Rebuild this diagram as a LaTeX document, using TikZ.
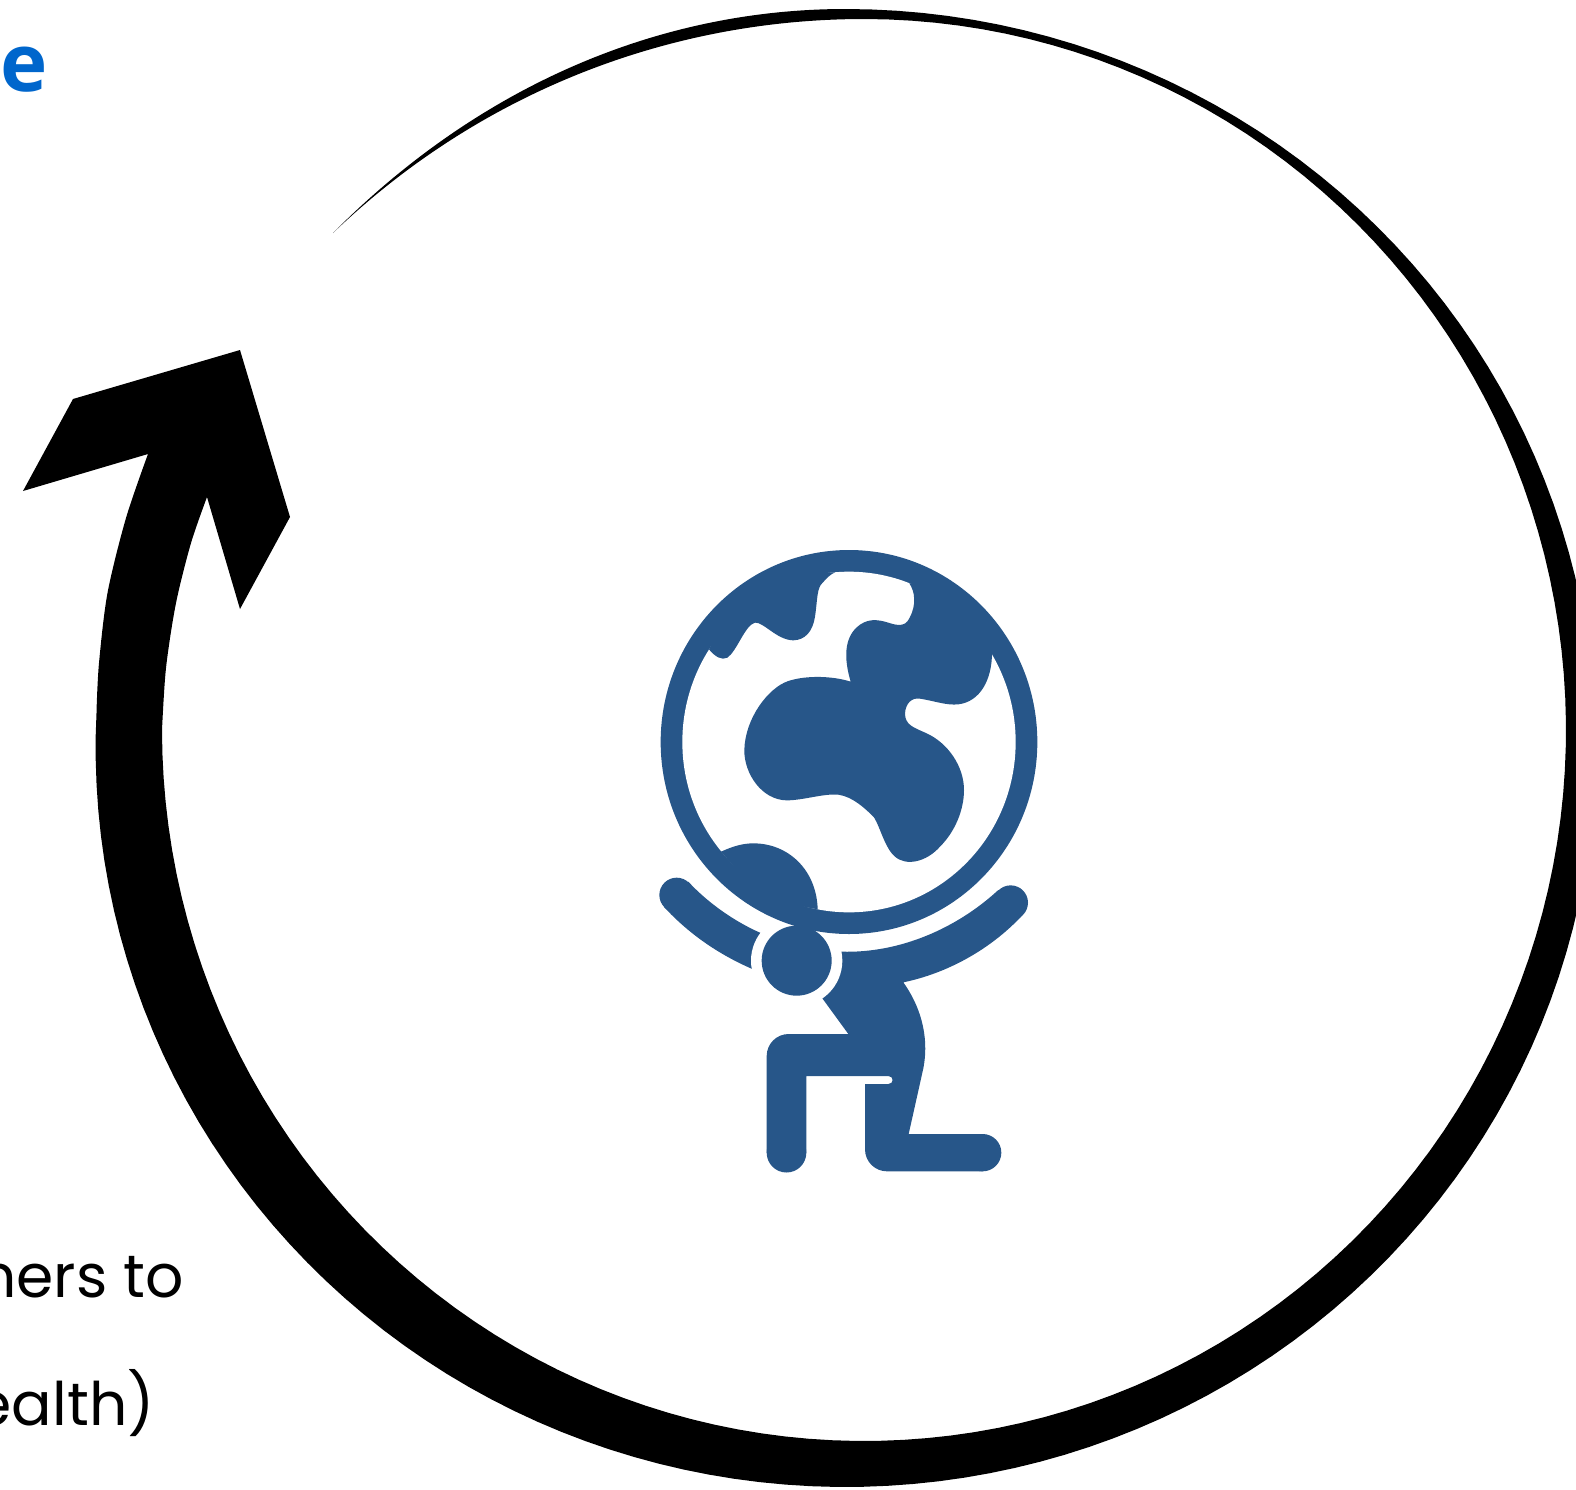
\documentclass[tikz,border=0pt]{standalone}
\usepackage{fontspec}
\usepackage{tikz}
\setmainfont{Poppins}
\newfontfamily\headfont{Open Sans}
\definecolor{atlasblue}{HTML}{275689}
\definecolor{headblue}{HTML}{0066CC}

\begin{document}
\begin{tikzpicture}[x=1pt, y=-1pt,
    atlas/.style={fill=atlasblue},
    headtext/.style={text=headblue, inner sep=0pt, font=\headfont\bfseries\fontsize{80}{96}\selectfont},
    bodytext/.style={text=black, inner sep=0pt, font=\fontsize{60}{72}\selectfont}]

  \path[use as bounding box, clip] (0,0) rectangle (1576,1489);

  % Cut-off texts
  \node[headtext, anchor=base west] (head_e) at (0,91.5) {e};
  \node[headtext, anchor=east] (head_paren) at (4,243) {)};
  \node[bodytext, anchor=base east] (line_to) at (184,1297) {ners to};
  \node[bodytext, anchor=base east] (line_health) at (155,1425) {ealth)};

  % Circular arrow
  \fill[black] (333,233) .. controls (480,85) and (660,9) .. (845.6,9)
    -- plot[domain=-90:183, samples=140] ({845.6+750*cos(\x)}, {748+739*sin(\x)})
    -- plot[smooth] coordinates {
      (96.6,709) (99,663) (107.5,593) (126,518) (148,454)}
    -- (23,491) -- (73,399) -- (240,350) -- (290,517) -- (240,609) -- (207,497)
    -- plot[smooth] coordinates {
      (207,497) (191,543) (176,603) (166,668) (162,730)}
    -- plot[domain=180:-90, samples=140] ({864+702*cos(\x)}, {730+711*sin(\x)})
    .. controls (670,19) and (480,92) .. (333,233)
    -- cycle;

  % Figure below the globe
  \begin{scope}[shift={(640,860)}, scale=1/3]
    \fill[atlas] (145,65) .. controls (205,130) and (285,185) .. (360,218)
      -- (420,250) -- (420,350) -- (337,327)
      .. controls (240,285) and (150,225) .. (73,142) -- cycle;
    \fill[atlas] (110,105) circle[radius=52];
    \fill[atlas] (470,302) -- (605,275) .. controls (780,280) and (950,205) .. (1075,90)
      -- (1147,166) .. controls (1050,270) and (920,340) .. (790,367)
      .. controls (835,430) and (870,520) .. (850,625)
      -- (806,822) -- (1028,822) -- (1028,934)
      [rounded corners=22pt] -- (675,934) [sharp corners] -- (675,672) -- (745,672)
      .. controls (762,672) and (762,648) .. (745,648)
      -- (499,648) -- (499,878) -- (380,878)
      [rounded corners=22pt] -- (380,522) [sharp corners] -- (625,522) -- (547,415) -- cycle;
    \fill[atlas] (1112,128) circle[radius=52];
    \fill[atlas] (1028,878) circle[radius=56];
    \fill[atlas] (439.5,878) circle[radius=59.5];
    % white gap around the head
    \fill[white] (470,302) circle[radius=137];
  \end{scope}

  % Globe
  \begin{scope}[shift={(640,540)}, scale=1/3]
    \fill[atlas] (627,606) ellipse[x radius=565, y radius=576];
    \fill[white] (627,606) ellipse[x radius=500, y radius=511];
    \fill[atlas] (207,328) .. controls (225,350) and (245,362) .. (262,353)
      .. controls (290,335) and (315,255) .. (345,248)
      .. controls (370,245) and (410,300) .. (460,301)
      .. controls (495,300) and (518,275) .. (525,230)
      .. controls (533,175) and (530,145) .. (548,128)
      .. controls (560,115) and (572,102) .. (585,97)
      -- (430,105) -- (280,190) -- cycle;
    \fill[atlas] (808,130) .. controls (825,155) and (830,195) .. (808,235)
      .. controls (795,262) and (770,256) .. (745,248)
      .. controls (710,237) and (680,235) .. (650,262)
      .. controls (615,295) and (610,350) .. (632,425)
      .. controls (580,408) and (500,405) .. (445,423)
      .. controls (385,443) and (315,535) .. (313,630)
      .. controls (312,700) and (365,780) .. (440,781)
      .. controls (490,781) and (550,760) .. (595,764)
      .. controls (640,770) and (680,810) .. (702,832)
      .. controls (720,860) and (735,925) .. (765,950)
      .. controls (800,980) and (860,965) .. (900,920)
      .. controls (945,875) and (972,810) .. (972,750)
      .. controls (972,680) and (925,610) .. (860,580)
      .. controls (820,562) and (795,555) .. (795,520)
      .. controls (797,490) and (815,472) .. (840,476)
      .. controls (880,482) and (920,497) .. (955,493)
      .. controls (1020,485) and (1056,420) .. (1056,338)
      -- (1010,260) -- (900,140) -- cycle;
    \fill[atlas] (243,935) .. controls (280,918) and (310,910) .. (340,910)
      .. controls (445,910) and (530,990) .. (533,1108)
      -- (466,1095) -- (400,1070) -- (300,1000) -- cycle;
    % head
    \fill[atlas] (470,1262) circle[radius=105];
  \end{scope}

\end{tikzpicture}
\end{document}
